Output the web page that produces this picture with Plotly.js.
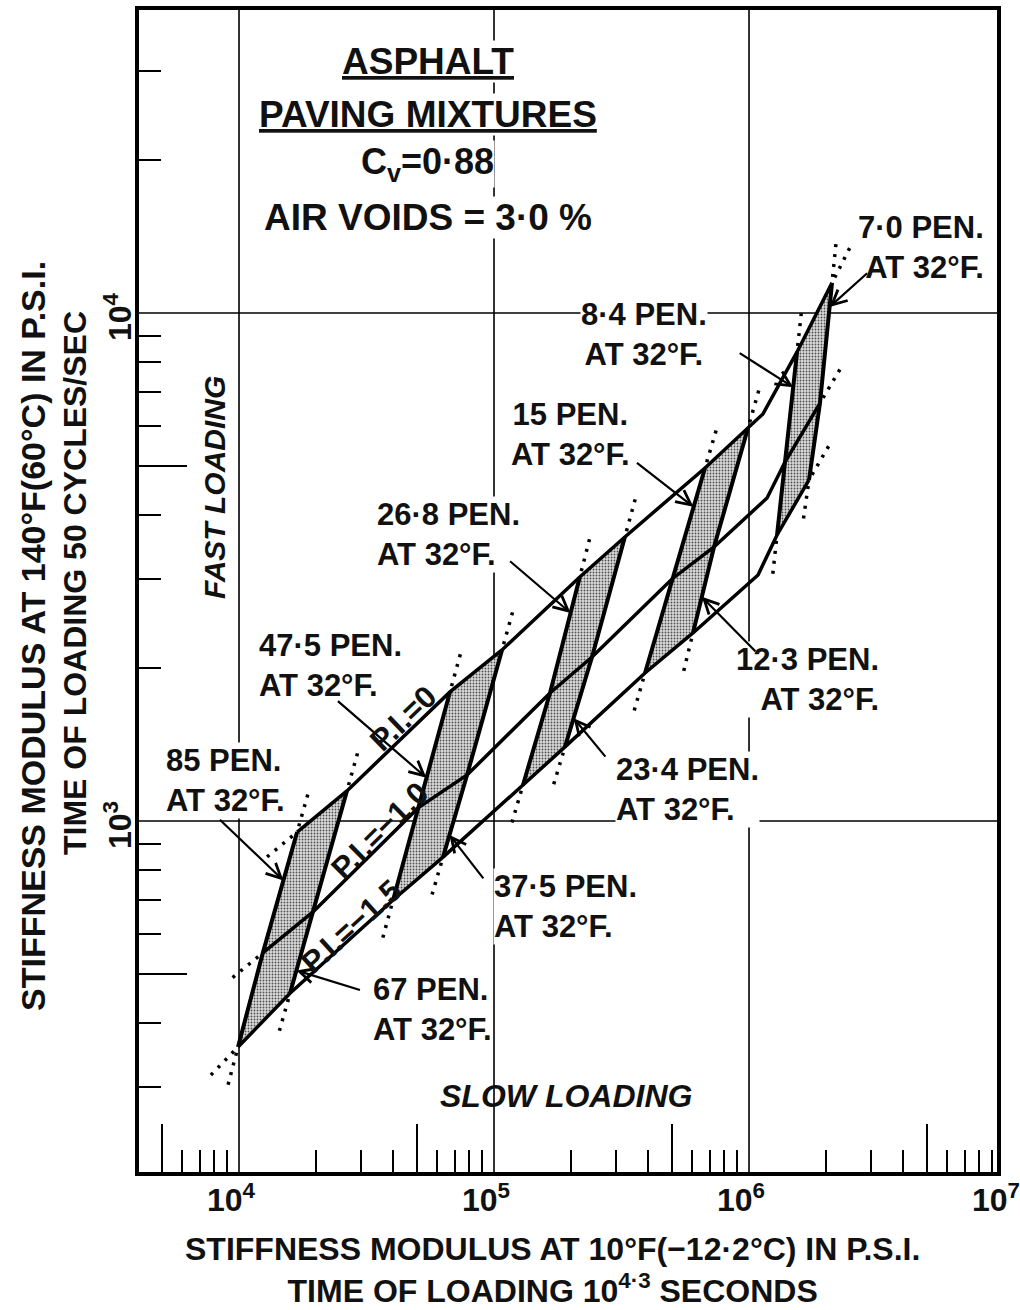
<!DOCTYPE html>
<html>
<head>
<meta charset="utf-8">
<script src="https://cdn.plot.ly/plotly-3.0.1.min.js"></script>
<style>
  html, body { margin: 0; padding: 0; background: #fff; }
  #chart { width: 1020px; height: 1310px; }
</style>
</head>
<body>
<div id="chart"></div>
<script>
// Penetration grades at 32°F. Grades are paired: each shaded band lies between two grade lines.
const penGrades = [85, 67, 47.5, 37.5, 26.8, 23.4, 15, 12.3, 8.4, 7.0];
const penText   = ['85', '67', '47·5', '37·5', '26·8', '23·4', '15', '12·3', '8·4', '7·0'];

// Where each grade line meets the P.I. = 0 curve (stiffness in psi: x at 10°F, y at 140°F)
const pi0X = [16900, 26500, 67200, 107500, 217000, 326000, 672000, 991000, 1543000, 2116000];
const pi0Y = [951, 1146, 1795, 2171, 3022, 3623, 4953, 5936, 8380, 11460];
// ... the P.I. = -1.0 curve
const pi10X = [12400, 19500, 50400, 78400, 165800, 242300, 499000, 729000, 1384000, 1898000];
const pi10Y = [550, 662, 1061, 1232, 1786, 2102, 2995, 3463, 5089, 6648];
// ... the P.I. = -1.5 curve
const pi15X = [9910, 15850, 40200, 63100, 129900, 189800, 391000, 603000, 1288000, 1719000];
const pi15Y = [359, 458, 699, 849, 1177, 1399, 1956, 2345, 3656, 4691];

// Bend of each P.I. curve between the 12.3 and 8.4 grade lines (P.I. 0, -1.0, -1.5)
const bendX = [1134000, 1177000, 1085000];
const bendY = [6328, 4323, 3050];

const piNames = ['P.I.=0', 'P.I.=−1.0', 'P.I.=−1.5'];

// ---- frame geometry ----
const W = 1020, H = 1310;
const M = { l: 139, r: 23, t: 10, b: 138 };
const xr = [3.6078, 6.9725];       // log10 range, x
const yr = [2.309, 4.5964];        // log10 range, y
const kx = (W - M.l - M.r) / (xr[1] - xr[0]);   // px per decade
const ky = (H - M.t - M.b) / (yr[1] - yr[0]);

const L = Math.log10;
const curves = [[pi0X, pi0Y], [pi10X, pi10Y], [pi15X, pi15Y]];
const pt = (c, i) => [curves[c][0][i], curves[c][1][i]];

// point p moved away from q along the line q->p by len pixels
function extend(p, q, len) {
  const dx = (L(p[0]) - L(q[0])) * kx, dy = (L(p[1]) - L(q[1])) * ky;
  const d = Math.hypot(dx, dy);
  return [10 ** (L(p[0]) + dx / d * len / kx), 10 ** (L(p[1]) + dy / d * len / ky)];
}
function lerpLog(a, b, t) {
  return [L(a[0]) + (L(b[0]) - L(a[0])) * t, L(a[1]) + (L(b[1]) - L(a[1])) * t];
}

const traces = [];

// shaded bands between each pair of grade lines
for (let b = 0; b < 5; b++) {
  const l = 2 * b, r = 2 * b + 1;
  const ring = [pt(0, l), pt(0, r), pt(1, r), pt(2, r), pt(2, l), pt(1, l), pt(0, l)];
  traces.push({
    type: 'scatter', mode: 'lines', fill: 'toself',
    x: ring.map(p => p[0]), y: ring.map(p => p[1]),
    line: { width: 0, color: 'rgba(0,0,0,0)' },
    fillcolor: '#b8b8b8',
    fillpattern: { shape: '.', bgcolor: '#dadada', fgcolor: '#505050', size: 3, solidity: 0.3 },
    hoverinfo: 'skip', showlegend: false
  });
}

// P.I. curves
curves.forEach((c, k) => {
  const xs = [...c[0].slice(0, 8), bendX[k], ...c[0].slice(8)];
  const ys = [...c[1].slice(0, 8), bendY[k], ...c[1].slice(8)];
  traces.push({
    type: 'scatter', mode: 'lines', x: xs, y: ys, name: piNames[k],
    line: { color: '#000', width: 3.5 }, hoverinfo: 'skip', showlegend: false
  });
});

// grade lines across the three curves
const gx = [], gy = [];
penGrades.forEach((g, i) => {
  [0, 1, 2].forEach(c => { const p = pt(c, i); gx.push(p[0]); gy.push(p[1]); });
  gx.push(null); gy.push(null);
});
traces.push({
  type: 'scatter', mode: 'lines', x: gx, y: gy,
  line: { color: '#000', width: 4 }, hoverinfo: 'skip', showlegend: false
});

// dotted continuations beyond the curves
const dx = [], dy = [];
function dotted(p, q) {
  const a = extend(p, q, 6), b = extend(p, q, 44);
  dx.push(a[0], b[0], null); dy.push(a[1], b[1], null);
}
penGrades.forEach((g, i) => {
  dotted(pt(0, i), pt(1, i));
  dotted(pt(2, i), pt(1, i));
});
curves.forEach((c, k) => {
  dotted(pt(k, 0), pt(k, 1));
  dotted(pt(k, 9), pt(k, 8));
});
traces.push({
  type: 'scatter', mode: 'lines', x: dx, y: dy,
  line: { color: '#000', width: 3.5, dash: '3px,7px' }, hoverinfo: 'skip', showlegend: false
});

// ---- annotations ----
const FONT = 'Liberation Sans, Arial, Helvetica, sans-serif';
const font = (size) => ({ family: FONT, size: size, color: '#111', weight: 'bold' });
const ann = [];

// grade labels: [grade index, x psi, y psi, anchor, arrow segment (0 upper / 1 lower), t, ax, ay]
const gradeLabels = [
  [0, 5130, 1204, 'left', 0, 0.40, -65, -62],
  [1, 33200, 425, 'left', 1, 0.72, 65, 20],
  [2, 11870, 2019, 'left', 0, 0.74, -90, -78],
  [3, 99100, 680, 'left', 1, 0.73, 35, 45],
  [4, 34430, 3656, 'left', 0, 0.31, -62, -53],
  [5, 298200, 1151, 'left', 1, 0.68, 33, 40],
  [6, 198600, 5753, 'center', 0, 0.35, -58, -45],
  [7, 3263000, 1895, 'right', 1, 0.58, 55, 56],
  [8, 387000, 9050, 'center', 0, 0.32, -55, -35],
  [9, 8420000, 13430, 'right', 0, 0.20, 39, -35]
];
gradeLabels.forEach(([i, x, y, anchor, seg, t, ax, ay]) => {
  ann.push({
    xref: 'x', yref: 'y', x: L(x), y: L(y), xanchor: anchor, yanchor: 'middle', align: anchor,
    text: penText[i] + ' PEN.<br>AT 32°F.', showarrow: false, bgcolor: '#fff', borderpad: 0,
    font: font(31)
  });
  const tip = lerpLog(pt(seg, i), pt(seg + 1, i), t);
  ann.push({
    xref: 'x', yref: 'y', x: tip[0], y: tip[1], text: '', showarrow: true,
    ax: ax, ay: ay, arrowhead: 5, arrowsize: 1.3, arrowwidth: 2.2, arrowcolor: '#000', standoff: 0
  });
});

// P.I. labels along the segment between the first two bands
[[0.544, 19], [0.638, 15], [0.592, 12]].forEach(([t, shift], k) => {
  const a = pt(k, 1), b = pt(k, 2);
  const p = lerpLog(a, b, t);
  const ang = -Math.atan(((L(b[1]) - L(a[1])) * ky) / ((L(b[0]) - L(a[0])) * kx)) * 180 / Math.PI;
  ann.push({
    xref: 'x', yref: 'y', x: p[0], y: p[1], yshift: shift, text: piNames[k], showarrow: false,
    xanchor: 'center', yanchor: 'middle', textangle: ang, font: font(31)
  });
});

// heading block
const head = [
  ['<u>ASPHALT</u>', 31330, 37],
  ['<u>PAVING MIXTURES</u>', 24640, 37],
  ['C<sub>v</sub>=0·88', 19650, 36],
  ['AIR VOIDS = 3·0 %', 15450, 37]
];
head.forEach(([txt, y, s]) => ann.push({
  xref: 'x', yref: 'y', x: L(55080), y: L(y), xanchor: 'center', yanchor: 'middle',
  text: txt, showarrow: false, bgcolor: '#fff', borderpad: 0, font: font(s)
}));

ann.push({
  xref: 'x', yref: 'y', x: L(8052), y: L(4524), xanchor: 'center', yanchor: 'middle',
  text: '<i>FAST LOADING</i>', textangle: -90, showarrow: false, font: font(30)
});
ann.push({
  xref: 'x', yref: 'y', x: L(191600), y: L(287.4), xanchor: 'center', yanchor: 'middle',
  text: '<i>SLOW LOADING</i>', showarrow: false, font: font(32)
});

// decade labels
const xDecades = [4, 5, 6, 7];
xDecades.forEach(d => ann.push({
  xref: 'paper', yref: 'paper', x: (d - xr[0]) / (xr[1] - xr[0]), y: 0, xshift: -8, yshift: -26,
  xanchor: 'center', yanchor: 'middle', text: '10<sup>' + d + '</sup>', showarrow: false, font: font(32)
}));
const yDecades = [3, 4];
yDecades.forEach(d => ann.push({
  xref: 'paper', yref: 'y', x: 0, y: d, xshift: -21, yshift: -4, textangle: -90,
  xanchor: 'center', yanchor: 'middle', text: '10<sup>' + d + '</sup>', showarrow: false, font: font(32)
}));

// axis titles
const xTitle = ['STIFFNESS MODULUS AT 10°F(−12·2°C) IN P.S.I.', 'TIME OF LOADING 10<sup>4·3</sup> SECONDS'];
const yTitle = ['STIFFNESS MODULUS AT 140°F(60°C) IN P.S.I.', 'TIME OF LOADING 50 CYCLES/SEC'];
const titleAnn = (txt, xs, ys, angle, size) => ({
  xref: 'paper', yref: 'paper', x: 0, y: 0, xshift: xs, yshift: ys, textangle: angle,
  xanchor: 'center', yanchor: 'middle', text: txt, showarrow: false, font: font(size)
});
ann.push(titleAnn(xTitle.join('<br>'), 413, -98, 0, 32));
ann.push(titleAnn(yTitle[0], -106, 536, -90, 34));
ann.push(titleAnn(yTitle[1], -64, 589, -90, 32));

// ---- ticks and grid ----
function tickSet(d0, d1, mults, r) {
  const v = [];
  for (let d = d0; d <= d1; d++) for (const m of mults) {
    const val = m * 10 ** d;
    if (L(val) > r[0] && L(val) < r[1]) v.push(val);
  }
  return v;
}
const shortMults = [2, 3, 4, 6, 7, 8, 9];
function axis(r, d0, d1) {
  return {
    type: 'log', range: r, fixedrange: true,
    showgrid: false, zeroline: false, showline: true, linewidth: 4, linecolor: '#000', mirror: true,
    ticks: 'inside', tickmode: 'array', tickvals: tickSet(d0, d1, [5], r),
    ticklen: 48, tickwidth: 2, tickcolor: '#000', showticklabels: false,
    minor: { tickmode: 'array', tickvals: tickSet(d0, d1, shortMults, r), ticks: 'inside',
      ticklen: 22, tickwidth: 2, tickcolor: '#000', showgrid: false }
  };
}

const shapes = [];
[1e4, 1e5, 1e6].forEach(v => shapes.push({ type: 'line', xref: 'x', yref: 'paper',
  x0: v, x1: v, y0: 0, y1: 1, layer: 'below', line: { color: '#000', width: 1.6 } }));
[1e3, 1e4].forEach(v => shapes.push({ type: 'line', xref: 'paper', yref: 'y',
  x0: 0, x1: 1, y0: v, y1: v, layer: 'below', line: { color: '#000', width: 1.6 } }));

const layout = {
  width: W, height: H, margin: M,
  paper_bgcolor: '#fff', plot_bgcolor: '#fff',
  showlegend: false, hovermode: false,
  xaxis: axis(xr, 3, 6),
  yaxis: axis(yr, 2, 4),
  shapes: shapes,
  annotations: ann,
  font: { family: FONT, color: '#111' }
};

Plotly.newPlot('chart', traces, layout, { staticPlot: true, displayModeBar: false });
</script>
</body>
</html>
